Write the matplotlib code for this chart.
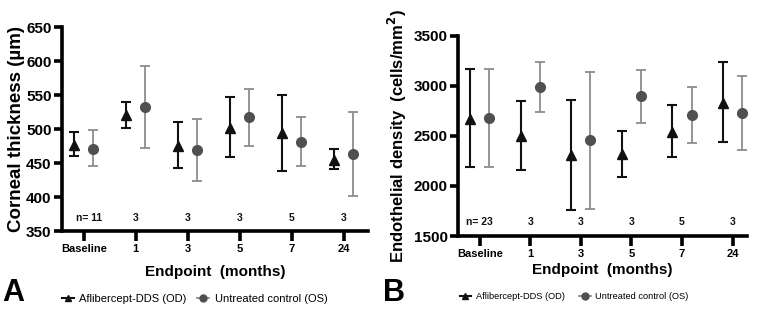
import matplotlib.pyplot as plt
from matplotlib.lines import Line2D

plt.rcParams["font.family"] = ["Liberation Sans", "DejaVu Sans"]

CATEGORIES = ["Baseline", "1", "3", "5", "7", "24"]
N_LABELS = ["n= 11", "3", "3", "3", "5", "3"]
N_LABELS_B = ["n= 23", "3", "3", "3", "5", "3"]

# Panel A: corneal thickness (um)
THICK_DDS = [477, 520, 475, 501, 494, 455]
THICK_DDS_LO = [461, 501, 442, 459, 439, 441]
THICK_DDS_HI = [496, 540, 510, 547, 550, 471]
THICK_CTRL = [471, 532, 469, 517, 481, 464]
THICK_CTRL_LO = [445, 472, 424, 475, 445, 402]
THICK_CTRL_HI = [498, 592, 515, 559, 518, 525]

# Panel B: endothelial density (cells/mm2)
DENS_DDS = [2667, 2497, 2310, 2317, 2540, 2827]
DENS_DDS_LO = [2190, 2160, 1764, 2090, 2290, 2440]
DENS_DDS_HI = [3170, 2847, 2860, 2550, 2810, 3237]
DENS_CTRL = [2674, 2990, 2457, 2894, 2710, 2727]
DENS_CTRL_LO = [2190, 2740, 1770, 2630, 2424, 2360]
DENS_CTRL_HI = [3170, 3237, 3140, 3160, 2990, 3094]

BLACK = "#111111"
DOT = "#505050"
BAR_GREY = "#8c8c8c"


def draw_panel(ax, dds, dds_lo, dds_hi, ctrl, ctrl_lo, ctrl_hi, nlab, n_y,
               offset, n0_shift, xlabelpad):
    x = list(range(len(CATEGORIES)))
    xd = [v - offset for v in x]
    xc = [v + offset for v in x]
    ax.errorbar(xd, dds,
                yerr=[[m - lo for m, lo in zip(dds, dds_lo)],
                      [hi - m for m, hi in zip(dds, dds_hi)]],
                fmt="^", color=BLACK, ms=6.5, elinewidth=1.5, capsize=3.5,
                capthick=1.5, zorder=3)
    ax.errorbar(xc, ctrl,
                yerr=[[m - lo for m, lo in zip(ctrl, ctrl_lo)],
                      [hi - m for m, hi in zip(ctrl, ctrl_hi)]],
                fmt="o", color=DOT, ecolor=BAR_GREY, ms=7, elinewidth=1.3,
                capsize=3.5, capthick=1.3, zorder=3)
    for xi, lab in zip(x, nlab):
        shift = n0_shift if xi == 0 else 0
        ax.text(xi + shift, n_y, lab, ha="center", va="center", fontsize=7.5,
                fontweight="bold", color=BLACK)
    ax.set_xticks(x)
    ax.set_xticklabels(CATEGORIES, fontweight="bold", fontsize=8)
    for side in ("top", "right"):
        ax.spines[side].set_visible(False)
    for side in ("left", "bottom"):
        ax.spines[side].set_linewidth(2.6)
    ax.tick_params(axis="y", width=2.6, length=6, pad=1.5)
    ax.tick_params(axis="x", width=2.6, length=7, pad=2)
    for lab in ax.get_yticklabels():
        lab.set_fontweight("bold")
        lab.set_fontsize(11)
    ax.set_xlabel("Endpoint  (months)", fontsize=11, fontweight="bold",
                  labelpad=xlabelpad)


fig = plt.figure(figsize=(7.6, 3.09), dpi=100)

ax1 = fig.add_axes([0.0816, 0.2524, 0.402, 0.660])
ax1.set_ylim(350, 650)
ax1.set_yticks([350, 400, 450, 500, 550, 600, 650])
ax1.set_xlim(-0.42, 5.46)
draw_panel(ax1, THICK_DDS, THICK_DDS_LO, THICK_DDS_HI,
           THICK_CTRL, THICK_CTRL_LO, THICK_CTRL_HI, N_LABELS, 369, 0.18,
           0.11, 8)
ax1.set_ylabel("Corneal thickness (\u00b5m)", fontsize=13.5, fontweight="bold",
               labelpad=1)

ax2 = fig.add_axes([0.6026, 0.236, 0.380, 0.6485])
ax2.set_ylim(1500, 3500)
ax2.set_yticks([1500, 2000, 2500, 3000, 3500])
ax2.set_xlim(-0.43, 5.28)
draw_panel(ax2, DENS_DDS, DENS_DDS_LO, DENS_DDS_HI,
           DENS_CTRL, DENS_CTRL_LO, DENS_CTRL_HI, N_LABELS_B, 1640, 0.19,
           0.0, 3)
ax2.set_ylabel("Endothelial density  (cells/mm$^\\mathbf{2}$)", fontsize=12,
               fontweight="bold", labelpad=3)

handles = [
    Line2D([], [], color=BLACK, marker="^", ms=5, lw=1.5),
    Line2D([], [], color=BAR_GREY, marker="o", mfc=DOT, mec=DOT, ms=5, lw=1.3),
]
labels = ["Aflibercept-DDS (OD)", "Untreated control (OS)"]
fig.legend(handles, labels, loc="center left", bbox_to_anchor=(0.068, 0.032),
           ncol=2, frameon=False, fontsize=8, handlelength=1.1,
           handletextpad=0.5, columnspacing=0.9)
fig.legend(handles, labels, loc="center left", bbox_to_anchor=(0.594, 0.04),
           ncol=2, frameon=False, fontsize=6.7, handlelength=1.2,
           handletextpad=0.5, columnspacing=1.6)

fig.text(0.003, 0.026, "A", fontsize=22, fontweight="bold", va="baseline")
fig.text(0.504, 0.026, "B", fontsize=22, fontweight="bold", va="baseline")

fig.savefig("out.png", dpi=100)
